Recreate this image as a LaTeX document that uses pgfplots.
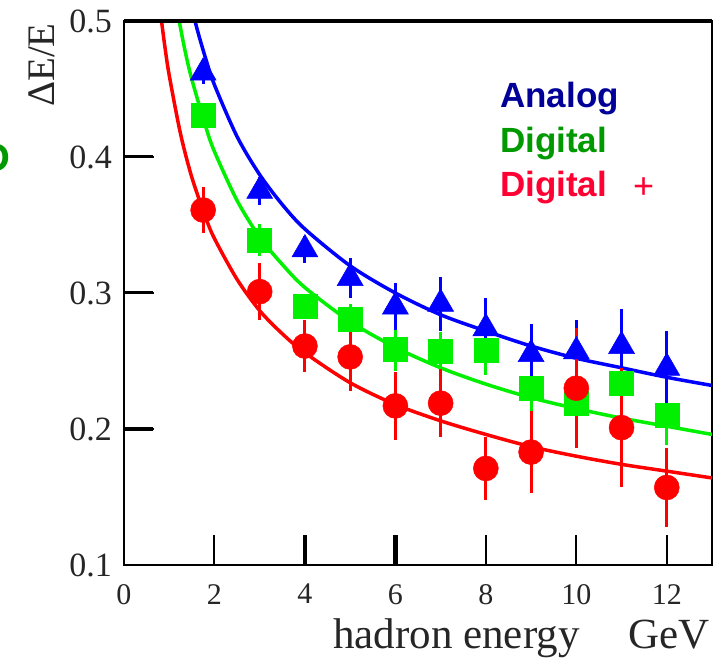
\documentclass[border=0pt]{standalone}
\usepackage{fontspec}
\setmainfont{Liberation Serif}
\newfontfamily\legfont{Liberation Sans}
\usepackage{pgfplots}
\pgfplotsset{compat=1.18}
\definecolor{cblue}{RGB}{0,0,255}
\definecolor{cgreen}{RGB}{0,240,0}
\definecolor{cred}{RGB}{255,0,0}
\definecolor{tblue}{RGB}{0,0,153}
\definecolor{tgreen}{RGB}{0,153,0}
\definecolor{tred}{RGB}{255,0,51}
\begin{document}
\begin{tikzpicture}[x=1bp,y=1bp]
\begin{axis}[at={(0,0)}, anchor=south west, scale only axis,
  width=588bp, height=544bp,
  xmin=0, xmax=13, ymin=0.1, ymax=0.5,
  xtick={0,2,4,6,8,10,12}, xticklabels={0,2,4,6,8,10,12},
  ytick={0.1,0.2,0.3,0.4,0.5}, yticklabels={0.1,0.2,0.3,0.4,0.5},
  xtick pos=bottom, ytick pos=left,
  xtick align=inside, ytick align=inside,
  major tick length=30bp,
  every tick/.style={black, line width=2bp},
  minor tick num=0,
  axis line style={black, line width=2.5bp},
  y tick label style={font=\fontsize{34bp}{34bp}\selectfont, anchor=east, inner sep=0pt, xshift=-12bp, text=black!85},
  x tick label style={font=\fontsize{30bp}{30bp}\selectfont, anchor=north, inner sep=0pt, yshift=-19bp, text=black!85},
  clip=true,
]
% fitted curves
\addplot[cgreen, line width=3.5bp, smooth, no marks] coordinates {
 (1.22,0.500) (1.35,0.478) (1.5,0.457) (1.8,0.423) (2,0.404) (2.5,0.368) (3,0.341) (3.5,0.321) (4,0.304) (5,0.279) (6,0.260) (7,0.245) (8,0.233) (9,0.223) (10,0.215) (11,0.208) (12,0.202) (13,0.196)};
\addplot[cblue, line width=3.5bp, smooth, no marks] coordinates {
 (1.57,0.500) (1.65,0.490) (1.8,0.473) (2,0.453) (2.5,0.415) (3,0.387) (3.5,0.365) (4,0.347) (5,0.320) (6,0.300) (7,0.284) (8,0.272) (9,0.261) (10,0.252) (11,0.245) (12,0.238) (13,0.232)};
\addplot[cred, line width=3.5bp, smooth, no marks] coordinates {
 (0.83,0.500) (0.9,0.482) (1.0,0.460) (1.25,0.417) (1.5,0.385) (1.8,0.356) (2,0.340) (2.5,0.310) (3,0.287) (3.5,0.270) (4,0.256) (5,0.234) (6,0.218) (7,0.206) (8,0.196) (9,0.187) (10,0.180) (11,0.174) (12,0.169) (13,0.164)};
% data points
\addplot[cgreen, only marks, mark=square*, mark size=12bp, mark options={solid, line width=0.5bp},
  error bars/.cd, y dir=both, y explicit, error mark=none, error bar style={line width=3bp, cgreen}]
 coordinates {
 (1.75,0.431) +- (0,0.008)
 (3,0.339) +- (0,0.012)
 (4,0.290) +- (0,0.009)
 (5,0.281) +- (0,0.011)
 (6,0.259) +- (0,0.016)
 (7,0.257) +- (0,0.014)
 (8,0.258) +- (0,0.018)
 (9,0.230) +- (0,0.018)
 (10,0.219) +- (0,0.018)
 (11,0.234) +- (0,0.022)
 (12,0.210) +- (0,0.022)};
\addplot[cblue, only marks, mark=triangle*, mark size=15bp, mark options={solid, line width=0.5bp},
  error bars/.cd, y dir=both, y explicit, error mark=none, error bar style={line width=3bp, cblue}]
 coordinates {
 (1.75,0.462) +- (0,0.008)
 (3,0.375) +- (0,0.010)
 (4,0.332) +- (0,0.010)
 (5,0.311) +- (0,0.015)
 (6,0.290) +- (0,0.017)
 (7,0.292) +- (0,0.020)
 (8,0.274) +- (0,0.022)
 (9,0.255) +- (0,0.022)
 (10,0.257) +- (0,0.023)
 (11,0.261) +- (0,0.027)
 (12,0.245) +- (0,0.027)};
\addplot[cred, only marks, mark=*, mark size=12.5bp, mark options={solid, line width=0.5bp},
  error bars/.cd, y dir=both, y explicit, error mark=none, error bar style={line width=3bp, cred}]
 coordinates {
 (1.75,0.361) +- (0,0.017)
 (3,0.301) +- (0,0.021)
 (4,0.261) +- (0,0.019)
 (5,0.253) +- (0,0.025)
 (6,0.217) +- (0,0.025)
 (7,0.219) +- (0,0.025)
 (8,0.171) +- (0,0.023)
 (9,0.183) +- (0,0.030)
 (10,0.230) +- (0,0.044)
 (11,0.201) +- (0,0.044)
 (12,0.157) +- (0,0.029)};
\end{axis}
% thick top border and the tick marks drawn as in the reference
\draw[line width=4bp, black] (0,544) -- (588,544);
\draw[line width=4.5bp, black] (180.9,0) -- (180.9,30);
\draw[line width=4.5bp, black] (271.4,0) -- (271.4,30);
\draw[line width=4.5bp, black] (0,136) -- (29,136);
\draw[line width=3bp, black] (0,272) -- (29,272);
\draw[line width=3bp, black] (0,408) -- (29,408);
% axis titles
\node[anchor=base, rotate=90, inner sep=0pt, font=\fontsize{39bp}{39bp}\selectfont, text=black!85] at (-69,500) {ΔE/E};
\node[anchor=base west, inner sep=0pt, font=\fontsize{43bp}{43bp}\selectfont, text=black!85] at (209,-84) {hadron energy};
\node[anchor=base east, inner sep=0pt, font=\fontsize{43bp}{43bp}\selectfont, text=black!85] at (586,-84) {GeV};
% legend texts
\node[anchor=base west, inner sep=0pt, text=tblue, font=\legfont\bfseries\fontsize{35bp}{35bp}\selectfont] at (376,457) {Analog};
\node[anchor=base west, inner sep=0pt, text=tgreen, font=\legfont\bfseries\fontsize{35bp}{35bp}\selectfont] at (376,412) {Digital};
\node[anchor=base west, inner sep=0pt, text=tred, font=\legfont\bfseries\fontsize{35bp}{35bp}\selectfont] at (376,368) {Digital};
\node[anchor=base west, inner sep=0pt, text=tred, font=\legfont\fontsize{36bp}{36bp}\selectfont] at (509,366) {+};
% cut-off letter at the left edge
\node[anchor=base east, inner sep=0pt, text=tgreen, font=\legfont\bfseries\fontsize{40bp}{40bp}\selectfont] at (-113,393) {D};
\pgfresetboundingbox
\path[use as bounding box] (-124,-95) rectangle (602,565);
\end{tikzpicture}
\end{document}
